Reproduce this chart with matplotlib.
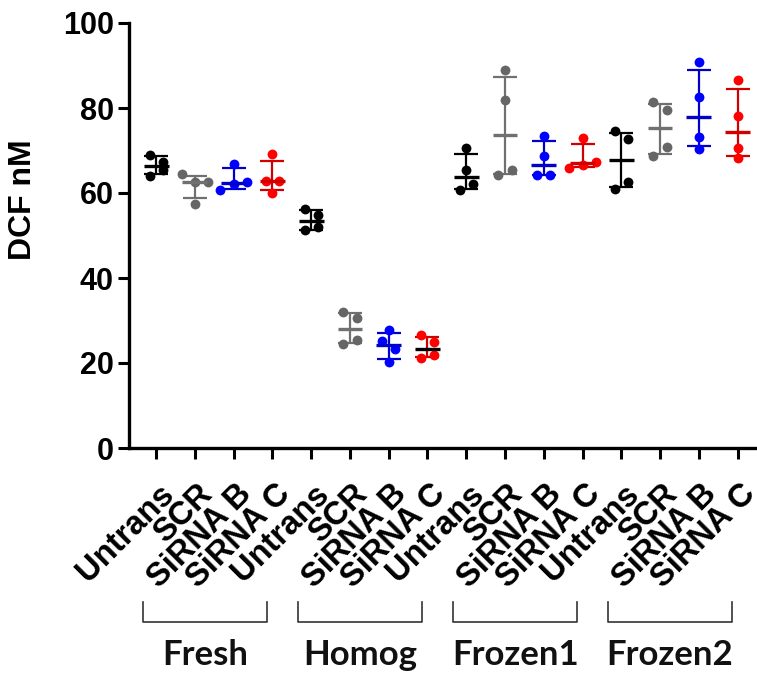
import numpy as np
import matplotlib
matplotlib.use("Agg")
import matplotlib.pyplot as plt
import matplotlib.transforms as mtransforms

# DCF (nM), 4 replicates per condition
conditions = ['Untrans', 'SCR', 'SiRNA B', 'SiRNA C']
groups = ['Fresh', 'Homog', 'Frozen1', 'Frozen2']
fresh = [[69.0, 67.4, 65.3, 64.1], [64.5, 62.7, 62.6, 57.5],
         [66.9, 62.6, 62.2, 60.6], [69.2, 62.9, 62.9, 59.9]]
homog = [[56.3, 54.8, 52.0, 51.2], [32.1, 30.5, 25.4, 24.5],
         [27.8, 25.2, 23.3, 20.3], [26.6, 24.9, 21.9, 21.1]]
frozen1 = [[70.6, 65.3, 62.2, 60.6], [89.0, 81.8, 65.3, 64.3],
           [73.4, 68.7, 64.3, 64.3], [72.9, 67.2, 66.7, 66.0]]
frozen2 = [[74.5, 72.6, 62.7, 61.0], [81.4, 79.6, 70.8, 68.7],
           [90.9, 82.6, 73.2, 70.4], [86.5, 78.2, 70.6, 68.2]]

dot_colors = ['#000000', '#666666', '#0000ff', '#ff0000']
line_colors = ['#000000', '#707070', '#0000c8', '#d00000']


def swarm(vals, thr=2.2, step=0.34):
    # spread points that would overlap, GraphPad style
    vals = np.asarray(vals)
    clusters = []
    for i in np.argsort(vals):
        if clusters and vals[i] - vals[clusters[-1][0]] < thr:
            clusters[-1].append(i)
        else:
            clusters.append([i])
    offs = np.zeros(len(vals))
    for k, c in enumerate(clusters):
        if k % 2:
            c = c[::-1]
        for j, i in enumerate(c):
            offs[i] = (j - (len(c) - 1) / 2) * step
    return offs


plt.rcParams['font.family'] = ['Liberation Sans', 'DejaVu Sans']
fig = plt.figure(figsize=(7.57, 6.73), dpi=100)
ax = fig.add_axes([129 / 757, 1 - 448 / 673, 626 / 757, 425 / 673])

data = [fresh, homog, frozen1, frozen2]
pos = 0
for g, grp in enumerate(data):
    for c, vals in enumerate(grp):
        vals = np.array(vals)
        med = np.median(vals)
        q1, q3 = np.percentile(vals, [25, 75], method='weibull')
        lc = line_colors[c]
        mc = 'black' if (g == 1 and c == 3) else lc
        ax.errorbar([pos], [med], yerr=[[med - q1], [q3 - med]], fmt='none',
                    ecolor=lc, elinewidth=1.6, capsize=8.5, capthick=1.6, zorder=2)
        ax.scatter(pos + swarm(vals), vals, s=50, color=dot_colors[c],
                   linewidths=0, zorder=3)
        ax.plot([pos - 0.32, pos + 0.32], [med, med], color=mc, lw=2.4,
                solid_capstyle='butt', zorder=4)
        pos += 1

ax.set_xlim(-0.70, 15.45)
ax.set_ylim(0, 100)
ax.set_yticks([0, 20, 40, 60, 80, 100])
ax.set_xticks(range(16))
ax.tick_params(axis='y', labelsize=22, width=2.2, length=8, pad=3)
ax.tick_params(axis='x', width=2.2, length=8, pad=4)
ax.set_xticklabels(conditions * 4, rotation=45, ha='right',
                   rotation_mode='anchor', fontsize=23.5, fontweight='bold')
shift = mtransforms.ScaledTranslation(0.02, -0.14, fig.dpi_scale_trans)
for lab in ax.get_xticklabels():
    lab.set_transform(lab.get_transform() + shift)
for lab in ax.get_yticklabels():
    lab.set_fontweight('bold')
for side in ['top', 'right']:
    ax.spines[side].set_visible(False)
for side in ['left', 'bottom']:
    ax.spines[side].set_linewidth(2.4)

ax.set_ylabel('DCF nM', fontsize=23, fontweight='bold')
ax.yaxis.set_label_coords(-0.145, 0.585)

# group brackets and names under the tick labels
trans = mtransforms.blended_transform_factory(ax.transData, fig.transFigure)
for g, name in enumerate(groups):
    x0, x1 = 4 * g - 0.33, 4 * g + 2.85
    ax.plot([x0, x0, x1, x1], [0.106, 0.076, 0.076, 0.106], transform=trans,
            color='#333333', lw=1.2, clip_on=False)
    ax.text((x0 + x1) / 2, 0.012, name, transform=trans, ha='center',
            va='baseline', fontsize=25, fontweight='bold', family='Lato',
            color='#111111')

fig.savefig('out.png', dpi=100)
